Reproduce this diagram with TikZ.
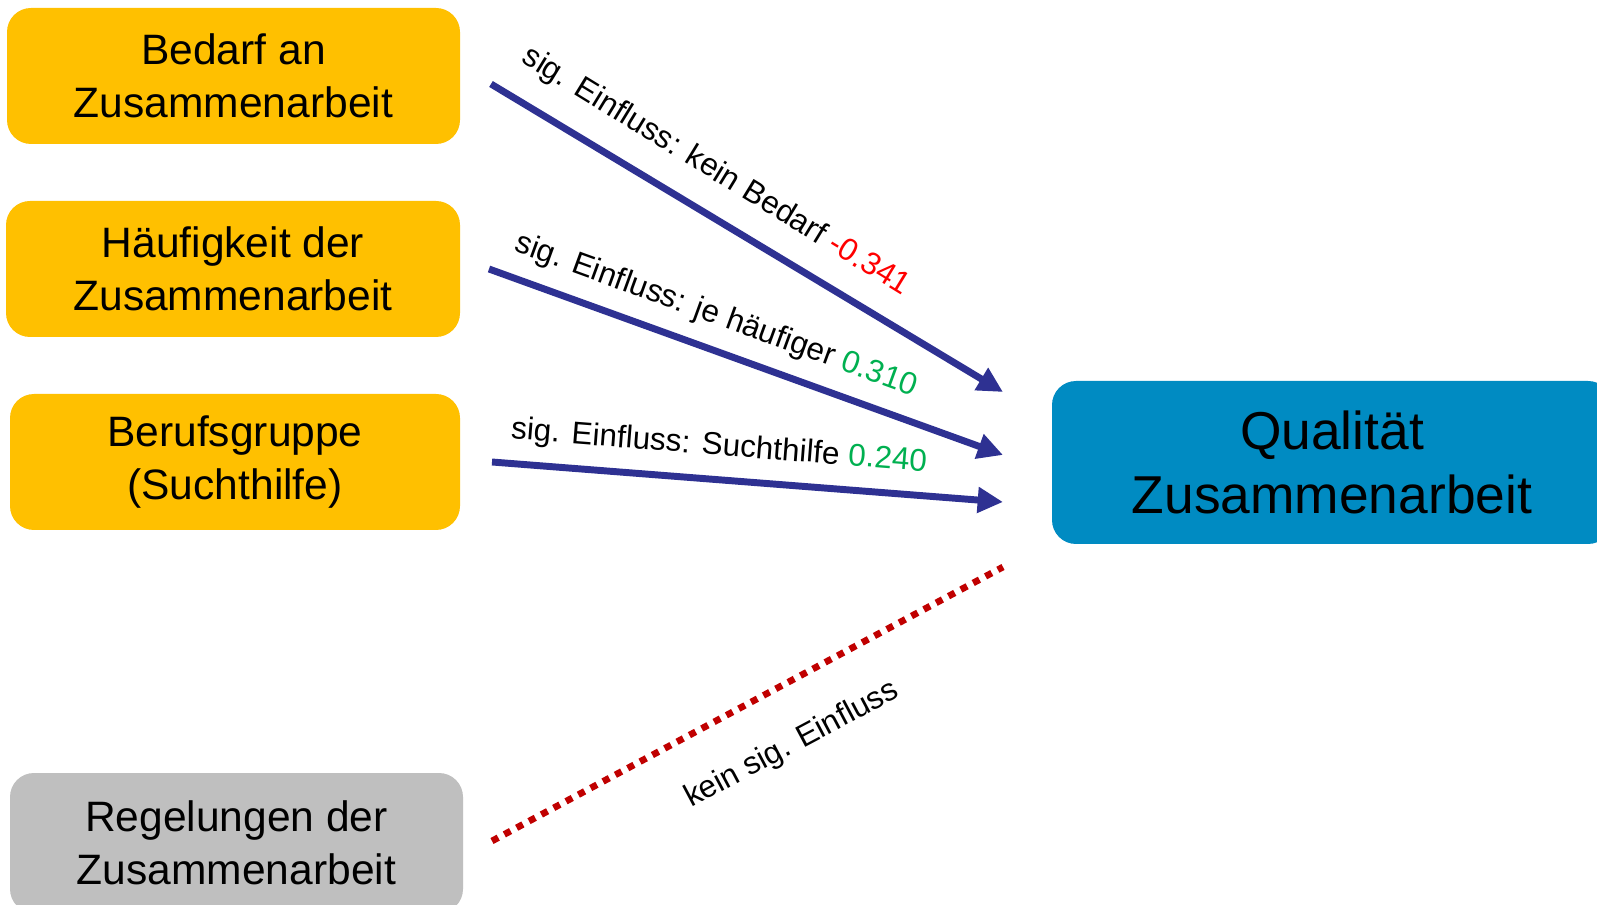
\documentclass[tikz,border=0pt]{standalone}
\usepackage{fontspec}
\setmainfont{Liberation Sans}
\usetikzlibrary{arrows.meta}
\definecolor{boxyellow}{HTML}{FFC000}
\definecolor{boxgrey}{HTML}{BFBFBF}
\definecolor{boxblue}{HTML}{008BC2}
\definecolor{arrowblue}{HTML}{2E3192}
\definecolor{dotred}{HTML}{C00000}
\definecolor{numred}{HTML}{FF0000}
\definecolor{numgreen}{HTML}{00B050}
\begin{document}
\begin{tikzpicture}[x=0.75pt,y=-0.75pt,
  factor/.style={rounded corners=18pt, fill=boxyellow, align=center, inner sep=0pt,
    font=\fontsize{31.9}{39.75}\selectfont, minimum width=340.5pt, minimum height=102pt},
  greybox/.style={factor, fill=boxgrey, minimum height=105pt},
  target/.style={rounded corners=18pt, fill=boxblue, align=center, inner sep=0pt,
    font=\fontsize{40}{48}\selectfont, minimum width=420pt, minimum height=122.25pt},
  effect/.style={draw=arrowblue, line width=5.2pt, -{Triangle[length=19pt,width=18.5pt]}},
  noeffect/.style={draw=dotred, line width=5pt, dash pattern=on 5.3pt off 5.2pt},
  lab/.style={font=\fontsize{23.6}{28.3}\selectfont, inner sep=0pt}]
\clip (0,0) rectangle (1597,905);
\fill[white] (0,0) rectangle (1597,905);

\node[factor, minimum width=339.75pt] (b1) at (233.5,76) {Bedarf an\\Zusammenarbeit};
\node[factor] (b2) at (233,269) {Häufigkeit der\\Zusammenarbeit};
\node[factor, minimum width=337.5pt] (b3) at (235,462) {Berufsgruppe\\(Suchthilfe)};
\node[greybox, minimum width=339.75pt] (b4) at (236.5,843) {Regelungen der\\Zusammenarbeit};
\node[target] (q) at (1332,462.5) {Qualität\\Zusammenarbeit};

\coordinate (s1) at (491,84);  \coordinate (e1) at (1003,392);
\coordinate (s2) at (489,269); \coordinate (e2) at (1003,455);
\coordinate (s3) at (492,462); \coordinate (e3) at (1003,502);
\coordinate (s4) at (492,841); \coordinate (e4) at (1003,567);

\draw[effect] (s1) -- (e1);
\draw[effect] (s2) -- (e2);
\draw[effect] (s3) -- (e3);
\draw[noeffect] (s4) -- (e4);

\node[lab, rotate=-31.5] (l1) at (716,172) {sig. Einfluss: kein Bedarf \textcolor{numred}{-0.341}};
\node[lab, rotate=-20] (l2) at (716,316) {sig. Einfluss: je häufiger \textcolor{numgreen}{0.310}};
\node[lab, rotate=-4.5] (l3) at (719,447) {sig. Einfluss: Suchthilfe \textcolor{numgreen}{0.240}};
\node[lab, rotate=28] (l4) at (792,745) {kein sig. Einfluss};
\end{tikzpicture}
\end{document}
